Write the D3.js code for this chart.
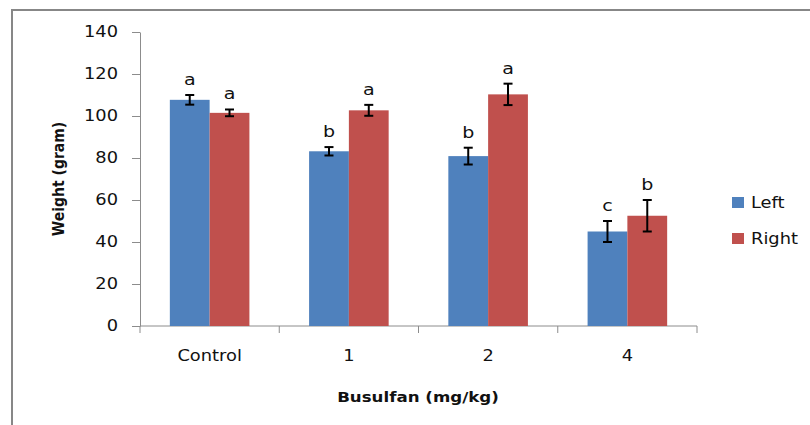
<!DOCTYPE html>
<html>
<head>
<meta charset="utf-8">
<script src="https://cdn.jsdelivr.net/npm/d3@7"></script>
<style>
  body { margin: 0; background: #fff; }
  svg { display: block; }
  text { font-family: "DejaVu Sans", Verdana, sans-serif; fill: #111; }
</style>
</head>
<body>
<svg id="chart" width="810" height="425"></svg>
<script>
// data
const categories = ["Control", "1", "2", "4"];
const series = ["Left", "Right"];
const leftValues = [107.7, 83.2, 80.9, 45.0];
const rightValues = [101.5, 102.7, 110.3, 52.5];
const leftErrors = [2.3, 2.0, 4.0, 5.0];
const rightErrors = [1.6, 2.6, 5.1, 7.5];
const leftLetters = ["a", "b", "b", "c"];
const rightLetters = ["a", "a", "a", "b"];
const yTicks = [0, 20, 40, 60, 80, 100, 120, 140];

const colors = { Left: "#4F81BD", Right: "#C0504D" };
const stretch = 1.19; // the original is a bit wider than tall

const svg = d3.select("#chart");

// outer frame (right and bottom edges fall outside the picture)
svg.append("rect")
  .attr("x", 12).attr("y", 10)
  .attr("width", 820).attr("height", 440)
  .attr("fill", "none")
  .attr("stroke", "#878787")
  .attr("stroke-width", 2);

const x = d3.scaleBand().domain(categories).range([140, 697]).padding(0);
const xs = d3.scaleBand().domain(series).range([0, x.bandwidth()])
  .paddingInner(0).paddingOuter(0.75);
const y = d3.scaleLinear().domain([0, 140]).range([326, 32]);

function label(g, txt, px, py, opts) {
  opts = opts || {};
  return g.append("text")
    .attr("transform", "translate(" + px + "," + py + ") scale(" + stretch + ",1)" + (opts.rotate ? " rotate(" + opts.rotate + ")" : ""))
    .attr("text-anchor", opts.anchor || "middle")
    .attr("dominant-baseline", opts.baseline || "auto")
    .style("font-size", (opts.size || 15) + "px")
    .style("font-weight", opts.bold ? "bold" : "normal")
    .text(txt);
}

// y axis
const yAxis = svg.append("g")
  .attr("transform", "translate(140,0)")
  .call(d3.axisLeft(y).tickValues(yTicks).tickSize(8).tickSizeOuter(0).tickFormat(""));
yAxis.selectAll("path, line").attr("stroke", "#8c8c8c");
yTicks.forEach(t => label(svg, t, 118, y(t), { anchor: "end", baseline: "central" }));

// x axis: line with ticks at category boundaries
const xAxis = svg.append("g").attr("transform", "translate(0," + y(0) + ")");
xAxis.append("line")
  .attr("x1", x.range()[0]).attr("x2", x.range()[1])
  .attr("stroke", "#8c8c8c");
const edges = categories.map(c => x(c)).concat([x.range()[1]]);
xAxis.selectAll(".edge").data(edges).join("line")
  .attr("class", "edge")
  .attr("x1", d => d).attr("x2", d => d)
  .attr("y1", 0).attr("y2", 7)
  .attr("stroke", "#8c8c8c");
categories.forEach(c => label(svg, c, x(c) + x.bandwidth() / 2, 356, { baseline: "central" }));

// bars
const rows = [];
categories.forEach((c, i) => {
  rows.push({ cat: c, s: "Left", v: leftValues[i], e: leftErrors[i], l: leftLetters[i] });
  rows.push({ cat: c, s: "Right", v: rightValues[i], e: rightErrors[i], l: rightLetters[i] });
});

const bars = svg.append("g");
bars.selectAll("rect").data(rows).join("rect")
  .attr("x", d => x(d.cat) + xs(d.s))
  .attr("y", d => y(d.v))
  .attr("width", xs.bandwidth())
  .attr("height", d => y(0) - y(d.v))
  .attr("fill", d => colors[d.s]);

// error bars
const cx = d => x(d.cat) + xs(d.s) + xs.bandwidth() / 2;
const err = svg.append("g").attr("stroke", "#000").attr("stroke-width", 2);
rows.forEach(d => {
  const c = cx(d), top = y(d.v + d.e), bot = y(d.v - d.e);
  err.append("line").attr("x1", c).attr("x2", c).attr("y1", top).attr("y2", bot);
  err.append("line").attr("x1", c - 4.5).attr("x2", c + 4.5).attr("y1", top).attr("y2", top);
  err.append("line").attr("x1", c - 4.5).attr("x2", c + 4.5).attr("y1", bot).attr("y2", bot);
});

// significance letters
rows.forEach(d => label(svg, d.l, cx(d), y(d.v + d.e) - 10, { size: 16 }));

// axis titles
label(svg, "Weight (gram)", 64, y(70), { rotate: -90, bold: true, size: 14 });
label(svg, "Busulfan (mg/kg)", 418, 402, { bold: true, size: 14 });

// legend
const legend = svg.append("g");
series.forEach((s, i) => {
  legend.append("rect")
    .attr("x", 732).attr("y", 197 + i * 36)
    .attr("width", 12).attr("height", 11)
    .attr("fill", colors[s]);
  label(legend, s, 751, 203 + i * 36, { anchor: "start", baseline: "central" });
});
</script>
</body>
</html>
